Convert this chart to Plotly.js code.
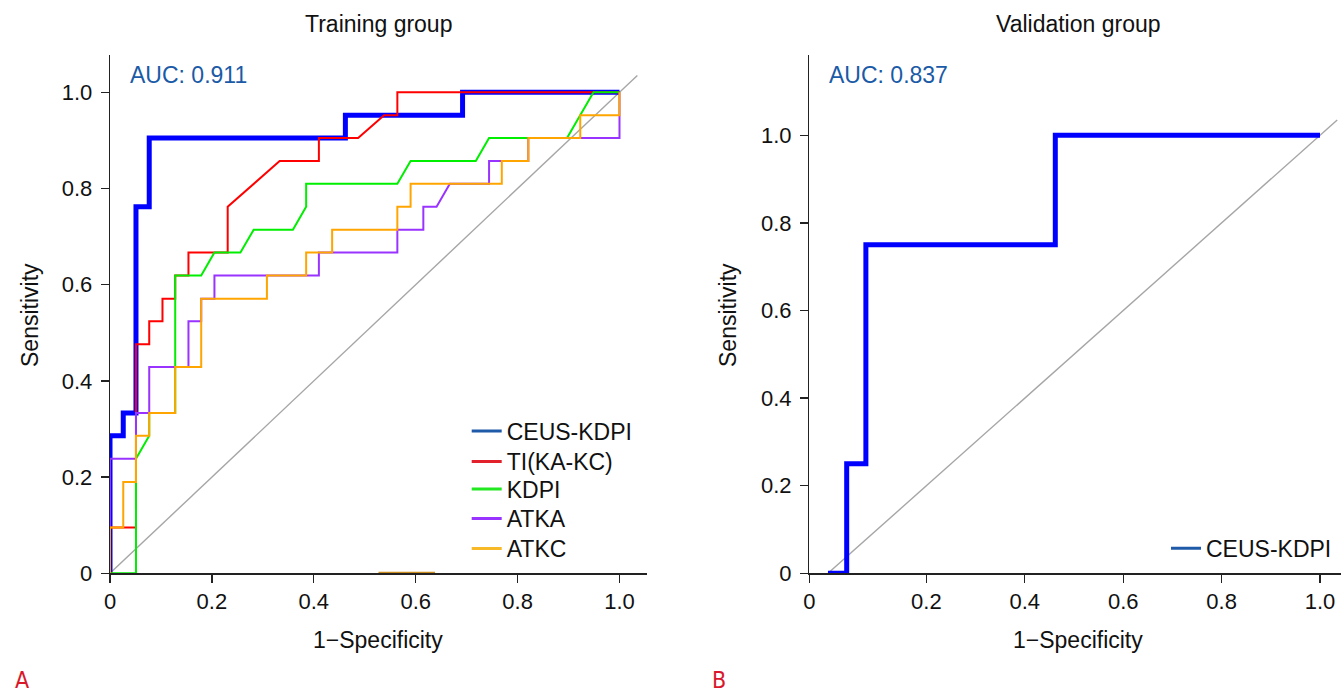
<!DOCTYPE html>
<html>
<head>
<meta charset="utf-8">
<script src="https://cdn.plot.ly/plotly-3.0.1.min.js"></script>
<style>
html,body{margin:0;padding:0;background:#fff;}
#chart{width:1341px;height:694px;}
</style>
</head>
<body>
<div id="chart"></div>
<script>
// ---------- DATA ----------
// Training group (x = 1 - specificity, y = sensitivity)
const ceusX = [0, 0, 0.026, 0.026, 0.051, 0.051, 0.077, 0.077, 0.462, 0.462, 0.692, 0.692, 1.0];
const ceusY = [0, 0.286, 0.286, 0.333, 0.333, 0.762, 0.762, 0.905, 0.905, 0.952, 0.952, 1.0, 1.0];

const tiX = [0, 0, 0.051, 0.051, 0.077, 0.077, 0.103, 0.103, 0.128, 0.128, 0.154, 0.154, 0.231, 0.231, 0.333, 0.410, 0.410, 0.487, 0.538, 0.564, 0.564, 1.0];
const tiY = [0, 0.095, 0.095, 0.476, 0.476, 0.524, 0.524, 0.571, 0.571, 0.619, 0.619, 0.667, 0.667, 0.762, 0.857, 0.857, 0.905, 0.905, 0.952, 0.952, 1.0, 1.0];

const kdpiX = [0, 0.051, 0.051, 0.077, 0.077, 0.128, 0.128, 0.179, 0.205, 0.256, 0.282, 0.359, 0.385, 0.385, 0.564, 0.590, 0.718, 0.744, 0.897, 0.923, 0.949, 1.0];
const kdpiY = [0, 0, 0.238, 0.286, 0.333, 0.333, 0.619, 0.619, 0.667, 0.667, 0.714, 0.714, 0.762, 0.810, 0.810, 0.857, 0.857, 0.905, 0.905, 0.952, 1.0, 1.0];

const atkaX = [0, 0, 0.051, 0.051, 0.077, 0.077, 0.154, 0.154, 0.179, 0.179, 0.205, 0.205, 0.410, 0.410, 0.564, 0.564, 0.615, 0.615, 0.641, 0.667, 0.744, 0.744, 0.821, 0.821, 1.0, 1.0];
const atkaY = [0, 0.238, 0.238, 0.333, 0.333, 0.429, 0.429, 0.524, 0.524, 0.571, 0.571, 0.619, 0.619, 0.667, 0.667, 0.714, 0.714, 0.762, 0.762, 0.810, 0.810, 0.857, 0.857, 0.905, 0.905, 1.0];

const atkcX = [0, 0, 0.026, 0.026, 0.051, 0.051, 0.077, 0.077, 0.128, 0.128, 0.179, 0.179, 0.308, 0.308, 0.385, 0.385, 0.436, 0.436, 0.564, 0.564, 0.590, 0.590, 0.769, 0.769, 0.821, 0.821, 0.923, 0.923, 1.0, 1.0];
const atkcY = [0, 0.095, 0.095, 0.190, 0.190, 0.286, 0.286, 0.333, 0.333, 0.429, 0.429, 0.571, 0.571, 0.619, 0.619, 0.667, 0.667, 0.714, 0.714, 0.762, 0.762, 0.810, 0.810, 0.857, 0.857, 0.905, 0.905, 0.952, 0.952, 1.0];

// small stray segment on the training x axis
const strayX = [0.527, 0.638];
const strayY = [0, 0];

// Validation group
const valX = [0, 0.038, 0.038, 0.077, 0.077, 0.462, 0.462, 1.0];
const valY = [0, 0, 0.25, 0.25, 0.75, 0.75, 1.0, 1.0];

// chance line
const diagX = [0, 1.035];
const diagY = [0, 1.035];

// ticks
const xTickVals = [0, 0.2, 0.4, 0.6, 0.8, 1.0];
const xTickVals2 = [-0.038, 0.2, 0.4, 0.6, 0.8, 1.0];
const xTickText = ["0", "0.2", "0.4", "0.6", "0.8", "1.0"];
const yTickVals = [0, 0.2, 0.4, 0.6, 0.8, 1.0];
const yTickText = ["0", "0.2", "0.4", "0.6", "0.8", "1.0"];

const seriesNames = ["CEUS-KDPI", "TI(KA-KC)", "KDPI", "ATKA", "ATKC"];
const curveColors = ["#0000ff", "#ff0000", "#00ee00", "#9933ff", "#ffa500"];
const legendColors = ["#1f5aa8", "#e3212d", "#22e822", "#9933ff", "#f7b928"];

const aucTrain = "AUC: 0.911";
const aucVal = "AUC: 0.837";

// ---------- LAYOUT HELPERS ----------
const W = 1341, H = 694;
const fx = p => p / W;
const fy = p => 1 - p / H;
const FONT = "Liberation Sans, Arial, Helvetica, sans-serif";

const curvesX = [ceusX, tiX, kdpiX, atkaX, atkcX];
const curvesY = [ceusY, tiY, kdpiY, atkaY, atkcY];
const widths = [5, 2, 2, 2, 2];
const legendIds = ['legend', 'legend3', 'legend4', 'legend5', 'legend6'];
const legendRowY = [431, 461.5, 489, 518.5, 548.5];

const traces = [];
traces.push({x: diagX, y: diagY, mode: 'lines', line: {color: '#a6a6a6', width: 1.4}, showlegend: false, hoverinfo: 'skip', xaxis: 'x', yaxis: 'y'});
traces.push({x: diagX, y: diagY, mode: 'lines', line: {color: '#a6a6a6', width: 1.4}, showlegend: false, hoverinfo: 'skip', xaxis: 'x2', yaxis: 'y2'});
traces.push({x: strayX, y: strayY, mode: 'lines', line: {color: '#c98a1e', width: 3}, showlegend: false, hoverinfo: 'skip', xaxis: 'x', yaxis: 'y'});

for (let i = 0; i < 5; i++) {
  traces.push({x: curvesX[i], y: curvesY[i], mode: 'lines', name: seriesNames[i],
    line: {color: curveColors[i], width: widths[i]}, showlegend: false, xaxis: 'x', yaxis: 'y'});
}
traces.push({x: valX, y: valY, mode: 'lines', name: seriesNames[0],
  line: {color: curveColors[0], width: 5}, showlegend: false, xaxis: 'x2', yaxis: 'y2'});

// legend entries
for (let i = 0; i < 5; i++) {
  traces.push({x: [null], y: [null], mode: 'lines', name: seriesNames[i],
    line: {color: legendColors[i], width: 3}, legend: legendIds[i], xaxis: 'x', yaxis: 'y'});
}
traces.push({x: [null], y: [null], mode: 'lines', name: seriesNames[0],
  line: {color: legendColors[0], width: 3}, legend: 'legend2', xaxis: 'x2', yaxis: 'y2'});

const axisCommon = {
  showline: true, linecolor: '#222', linewidth: 1.3, mirror: false,
  ticks: 'outside', ticklen: 8, tickwidth: 1.3, tickcolor: '#222',
  showgrid: false, zeroline: false, fixedrange: true,
  tickfont: {family: FONT, size: 22, color: '#111'}
};

const yDom = [fy(573.3), fy(55)];

function legendAt(px, pyCenter) {
  return {x: fx(px), xanchor: 'left', y: fy(pyCenter), yanchor: 'middle',
    font: {family: FONT, size: 23, color: '#111'}, bgcolor: 'rgba(0,0,0,0)', borderwidth: 0,
    itemclick: false, itemdoubleclick: false};
}

const layout = {
  width: W, height: H,
  margin: {l: 0, r: 0, t: 0, b: 0, pad: 0},
  paper_bgcolor: '#fff', plot_bgcolor: '#fff',
  font: {family: FONT, color: '#111'},
  xaxis: Object.assign({}, axisCommon, {domain: [fx(110), fx(647)], range: [0, 1.054], anchor: 'y',
    tickmode: 'array', tickvals: xTickVals, ticktext: xTickText}),
  yaxis: Object.assign({}, axisCommon, {domain: yDom, range: [0, 1.0775], anchor: 'x',
    tickmode: 'array', tickvals: yTickVals, ticktext: yTickText, ticklabelstandoff: 4}),
  xaxis2: Object.assign({}, axisCommon, {domain: [fx(809.3), 1], range: [-0.038, 1.0427], anchor: 'y2',
    tickmode: 'array', tickvals: xTickVals2, ticktext: xTickText}),
  yaxis2: Object.assign({}, axisCommon, {domain: yDom, range: [0, 1.1834], anchor: 'x2',
    tickmode: 'array', tickvals: yTickVals, ticktext: yTickText, ticklabelstandoff: 4}),
  annotations: [
    {text: 'Training group', x: fx(378), y: fy(24), xref: 'paper', yref: 'paper', xanchor: 'center', yanchor: 'middle', showarrow: false, font: {family: FONT, size: 23, color: '#111'}},
    {text: 'Validation group', x: fx(1078), y: fy(24), xref: 'paper', yref: 'paper', xanchor: 'center', yanchor: 'middle', showarrow: false, font: {family: FONT, size: 23, color: '#111'}},
    {text: '1\u2212Specificity', x: fx(378), y: fy(640), xref: 'paper', yref: 'paper', xanchor: 'center', yanchor: 'middle', showarrow: false, font: {family: FONT, size: 23, color: '#111'}},
    {text: '1\u2212Specificity', x: fx(1078), y: fy(640), xref: 'paper', yref: 'paper', xanchor: 'center', yanchor: 'middle', showarrow: false, font: {family: FONT, size: 23, color: '#111'}},
    {text: 'Sensitivity', x: fx(30), y: fy(315), xref: 'paper', yref: 'paper', xanchor: 'center', yanchor: 'middle', textangle: -90, showarrow: false, font: {family: FONT, size: 23, color: '#111'}},
    {text: 'Sensitivity', x: fx(728), y: fy(315), xref: 'paper', yref: 'paper', xanchor: 'center', yanchor: 'middle', textangle: -90, showarrow: false, font: {family: FONT, size: 23, color: '#111'}},
    {text: aucTrain, x: fx(128), y: fy(75), xref: 'paper', yref: 'paper', xanchor: 'left', yanchor: 'middle', showarrow: false, font: {family: FONT, size: 23, color: '#1a5aa6'}},
    {text: aucVal, x: fx(827), y: fy(75.5), xref: 'paper', yref: 'paper', xanchor: 'left', yanchor: 'middle', showarrow: false, font: {family: FONT, size: 23, color: '#1a5aa6'}},
    {text: 'A', x: fx(14), y: 0, xref: 'paper', yref: 'paper', xanchor: 'left', yanchor: 'bottom', borderpad: 0, showarrow: false, font: {family: "Liberation Sans Narrow, DejaVu Sans Condensed, sans-serif", size: 23, color: '#d9192b'}},
    {text: 'B', x: fx(711), y: 0, xref: 'paper', yref: 'paper', xanchor: 'left', yanchor: 'bottom', borderpad: 0, showarrow: false, font: {family: "Liberation Sans Narrow, DejaVu Sans Condensed, sans-serif", size: 23, color: '#d9192b'}}
  ]
};
for (let i = 0; i < 5; i++) layout[legendIds[i]] = legendAt(466.7, legendRowY[i]);
layout.legend2 = legendAt(1166, 548.3);

Plotly.newPlot('chart', traces, layout, {displayModeBar: false, staticPlot: true});
</script>
</body>
</html>
